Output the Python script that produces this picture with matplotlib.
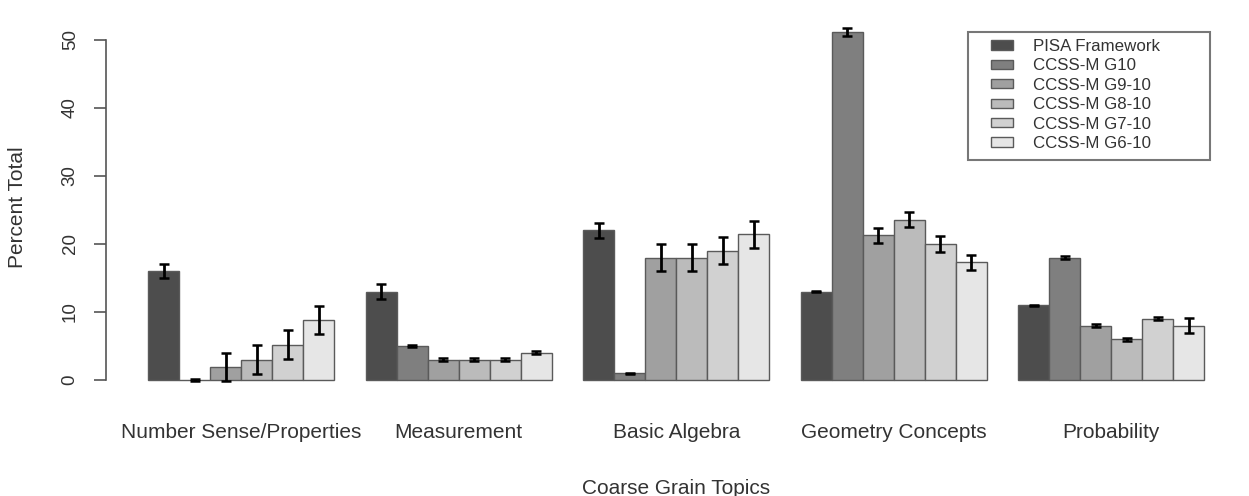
import numpy as np
import matplotlib
matplotlib.use("Agg")
import matplotlib.pyplot as plt
from matplotlib.patches import Rectangle

plt.rcParams['font.family'] = ['Liberation Sans', 'DejaVu Sans']

# Data
topics = ['Number Sense/Properties', 'Measurement', 'Basic Algebra',
          'Geometry Concepts', 'Probability']
series = ['PISA Framework', 'CCSS-M G10', 'CCSS-M G9-10',
          'CCSS-M G8-10', 'CCSS-M G7-10', 'CCSS-M G6-10']
pisa = [16.0, 13.0, 22.0, 13.0, 11.0]
g10 = [0.0, 5.0, 1.0, 51.2, 18.0]
g9_10 = [1.9, 3.0, 18.0, 21.3, 8.0]
g8_10 = [3.0, 3.0, 18.0, 23.6, 6.0]
g7_10 = [5.2, 3.0, 19.0, 20.0, 9.0]
g6_10 = [8.8, 4.0, 21.4, 17.3, 8.0]
pisa_err = [1.0, 1.1, 1.1, 0.1, 0.1]
g10_err = [0.1, 0.2, 0.1, 0.6, 0.2]
g9_10_err = [2.1, 0.2, 2.0, 1.1, 0.2]
g8_10_err = [2.1, 0.2, 2.0, 1.1, 0.2]
g7_10_err = [2.1, 0.2, 2.0, 1.2, 0.2]
g6_10_err = [2.1, 0.2, 2.0, 1.1, 1.1]

values = [pisa, g10, g9_10, g8_10, g7_10, g6_10]
errors = [pisa_err, g10_err, g9_10_err, g8_10_err, g7_10_err, g6_10_err]
colors = ['#4D4D4D', '#7F7F7F', '#A0A0A0', '#BBBBBB', '#D1D1D1', '#E6E6E6']

W, H = 1249, 496
fig = plt.figure(figsize=(W / 100, H / 100), dpi=100)

# plot region in pixel terms (R barplot style)
unit = 31.07
x0 = 117
xlim = (-0.36, 36.36)
ylim = (-2.04, 53.04)
ypx = lambda v: 380 - 6.8 * v
left = (x0 + xlim[0] * unit) / W
width = (xlim[1] - xlim[0]) * unit / W
bottom = 1 - ypx(ylim[0]) / H
height = (ypx(ylim[0]) - ypx(ylim[1])) / H
ax = fig.add_axes([left, bottom, width, height])

ngroups = len(topics)
nser = len(series)
for i in range(nser):
    xs = np.array([1 + 7 * g + i for g in range(ngroups)], dtype=float)
    ax.bar(xs, values[i], width=1, align='edge', color=colors[i],
           edgecolor='#5a5a5a', linewidth=1.0, label=series[i], zorder=2)
    ax.errorbar(xs + 0.5, values[i], yerr=errors[i], fmt='none',
                ecolor='black', elinewidth=2, capsize=3.5, capthick=1.8,
                zorder=3)

ax.set_xlim(*xlim)
ax.set_ylim(*ylim)
for s in ['top', 'right', 'bottom']:
    ax.spines[s].set_visible(False)
ax.spines['left'].set_bounds(0, 50)
ax.spines['left'].set_color('#555555')
ax.spines['left'].set_linewidth(1.2)
ax.set_yticks([0, 10, 20, 30, 40, 50])
ax.set_yticklabels(['0', '10', '20', '30', '40', '50'], rotation=90,
                   va='center', fontsize=13.5, color='#333333')
ax.tick_params(axis='y', length=8.5, width=1.2, color='#555555', pad=11)

ax.set_xticks([4 + 7 * g for g in range(ngroups)])
ax.set_xticklabels(topics, fontsize=15, color='#333333')
ax.tick_params(axis='x', length=0, pad=21)

fig.text(18 / W, 1 - 207 / H, 'Percent Total', rotation=90,
         ha='center', va='center', fontsize=15, color='#333333')
fig.text(676 / W, 1 - 488 / H, 'Coarse Grain Topics',
         ha='center', va='center', fontsize=15, color='#333333')

# legend box
fig.patches.append(Rectangle((968 / W, 1 - 160 / H), (1210 - 968) / W,
                             (160 - 32) / H, transform=fig.transFigure,
                             facecolor='white', edgecolor='#777777',
                             linewidth=1.5, zorder=5))
leg = fig.legend(loc='upper left', bbox_to_anchor=(991 / W, 1 - 39 / H),
                 frameon=False, fontsize=12.2, handlelength=1.3,
                 handleheight=0.45, handletextpad=1.2, labelspacing=0.26,
                 borderpad=0, borderaxespad=0)
leg.set_zorder(6)
for t in leg.get_texts():
    t.set_color('#333333')

fig.savefig('out.png', dpi=100)
